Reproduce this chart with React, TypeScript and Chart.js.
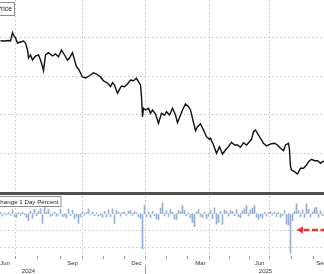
import React, { useEffect, useRef } from 'react';
import { Chart, registerables } from 'chart.js';

Chart.register(...registerables);

// x unit: trading-day index from the first visible session (early Jun 2024)
const priceDays = [0, 4, 8, 10, 12, 13, 15, 17, 20, 23, 25, 27, 28, 30, 32, 35, 38, 40, 42, 43, 45, 48, 52, 55, 58, 61, 64, 67, 69, 72, 74, 76, 78, 80, 82, 85, 87, 90, 93, 96, 100, 103, 107, 110, 112, 114, 117, 119, 121, 124, 127, 130, 133, 136, 138, 140, 141, 142, 143, 145, 148, 150, 152, 155, 158, 161, 164, 166, 169, 172, 175, 177, 180, 182, 185, 188, 190, 192, 195, 197, 200, 203, 206, 209, 210, 213, 216, 219, 222, 225, 228, 231, 234, 237, 240, 243, 246, 249, 251, 253, 255, 257, 260, 263, 266, 270, 274, 277, 280, 283, 285, 288, 289, 290, 291, 294, 297, 300, 303, 306, 308, 311, 314, 317, 320, 322, 324];

const priceValues = [39.27, 39.19, 39.32, 39.19, 41.35, 40.76, 39.97, 38.67, 38.93, 39.19, 38.67, 36.85, 34.77, 35.55, 34.24, 35.29, 35.55, 34.24, 32.5, 31.46, 35.55, 36.15, 35.29, 35.81, 35.1, 36.85, 35.55, 34.24, 34.77, 36.15, 34.24, 32.5, 31.9, 30.86, 29.82, 29.56, 29.82, 30.34, 30.94, 30.6, 29.82, 28.78, 28.26, 27.34, 28.33, 27.73, 25.57, 26.61, 27.47, 27.29, 27.99, 29.04, 28.85, 29.48, 28.59, 27.73, 24.69, 19.48, 21.67, 21.22, 21.67, 20.36, 21.22, 20.18, 17.76, 20.36, 19.92, 20.78, 19.92, 21.67, 19.92, 17.92, 19.92, 21.22, 22.79, 22.08, 21.22, 19.06, 15.83, 16.88, 17.58, 16.02, 14.27, 13.59, 13.85, 12.11, 9.95, 11.67, 9.77, 10.81, 11.67, 12.81, 12.11, 12.11, 11.51, 12.71, 12.11, 12.97, 13.59, 15.57, 16.02, 15.16, 13.85, 12.55, 11.85, 12.37, 12.55, 12.11, 11.25, 10.63, 12.11, 12.55, 10.81, 6.46, 5.6, 5.16, 4.56, 6.04, 6.04, 6.9, 7.76, 8.39, 8.02, 8.02, 7.34, 7.76, 7.94];

// Change 1 Day Percent, one bar every 2 sessions
const changeDayStep = 2;
const changeValues = [0.8, -1.2, 0.5, -0.6, 1.0, -0.8, 2.5, -1.5, -2.0, 0.7, -0.9, 1.1, -0.5, -2.2, -4.0, 1.8, -2.5, 2.8, -1.0, 1.5, 3.2, -5.5, 4.0, 1.2, 2.6, -1.4, -0.8, 1.0, -1.3, -0.7, 2.8, -1.6, -1.2, -2.4, 3.0, -1.0, 2.2, -2.8, -1.5, -5.5, -1.8, 1.4, -0.8, 1.0, 3.0, -0.6, 1.2, -0.9, 0.6, -1.1, -0.7, -2.0, 1.5, -1.8, 2.4, -1.6, 3.0, -5.5, 2.0, 1.1, -1.3, 0.9, 1.2, -0.8, 1.6, 2.1, -0.9, 1.3, 0.7, -1.8, -2.5, -20.5, 5.0, -1.5, 1.2, -2.2, 1.6, -1.0, -2.8, -3.5, 3.4, 6.5, -1.2, 1.9, -1.5, 2.6, 1.0, -3.0, -3.2, 2.0, 1.4, 5.0, 2.2, -1.0, 0.8, -2.4, -5.0, -7.5, 1.2, 2.6, -1.4, -2.0, 1.0, -2.6, -1.2, 2.2, -2.8, 3.5, -6.0, -5.0, 1.5, -6.0, 2.4, 1.8, -1.2, 2.0, 1.5, -1.0, 2.6, -1.6, -2.2, 1.8, 3.0, 5.0, -1.2, 2.4, 3.5, 5.0, -2.0, -3.2, -1.4, -2.5, 1.0, -1.2, 0.8, 1.5, -0.8, 1.2, -1.4, 0.9, -2.2, -1.0, 2.0, -6.0, -6.5, -23.0, -4.0, 1.5, 6.0, 2.0, -1.5, 2.4, -2.0, 6.0, 2.8, -1.8, 1.2, 3.5, 4.0, -2.0, 1.8, -1.0, 2.2];

const quarterGridDays = [15, 82, 145, 209, 269];
const monthTickDays = [15, 37, 60, 82, 103, 124, 145, 166, 187, 209, 229, 249, 269, 291, 313];
const monthLabels = ['Jun', 'Sep', 'Dec', 'Mar', 'Jun', 'Sep'];
const monthLabelDays = [4.5, 72, 136, 200, 259, 321];
const yearLabels = ['2024', '2025'];
const yearLabelDays = [28, 265];
const yearBoundaryDay = 145;
const priceGridTicks = [10, 20, 30, 40];
const changeGridTicks = [-20, -10, 0];
const arrowDay = 296;
const arrowLevel = -9.4;
const priceLegend = 'Price';
const changeLegend = 'Change 1 Day Percent';

const FONT = '"Liberation Sans", Arial, sans-serif';
const GRID = '#c4c4c4';
const DASH = [1.5, 2.5];

export default function App() {
  const ref = useRef<HTMLCanvasElement>(null);

  useEffect(() => {
    if (!ref.current) return;

    const overlay = {
      id: 'overlay',
      afterDatasetsDraw(chart: any) {
        const { ctx, chartArea, scales } = chart;
        const x = scales.x;
        const yt = scales.yTop;
        const yb = scales.yBot;
        ctx.save();
        // panel separator
        const sep = Math.round(yt.getPixelForValue(0) + 0.5);
        ctx.fillStyle = '#505050';
        ctx.fillRect(0, sep, chart.width, 3);

        // red dashed arrow
        const ay = yb.getPixelForValue(arrowLevel);
        const ax = x.getPixelForValue(arrowDay);
        ctx.fillStyle = '#e53935';
        ctx.beginPath();
        ctx.moveTo(ax, ay);
        ctx.lineTo(ax + 6.5, ay - 3.5);
        ctx.lineTo(ax + 6.5, ay + 3.5);
        ctx.closePath();
        ctx.fill();
        ctx.strokeStyle = '#e53935';
        ctx.lineWidth = 2.6;
        ctx.setLineDash([6, 2.5]);
        ctx.beginPath();
        ctx.moveTo(ax + 7, ay);
        ctx.lineTo(chartArea.right + 5, ay);
        ctx.stroke();
        ctx.setLineDash([]);

        // month ticks
        ctx.strokeStyle = '#9a9a9a';
        ctx.lineWidth = 1;
        for (const d of monthTickDays) {
          const px = Math.floor(x.getPixelForValue(d)) + 0.5;
          ctx.beginPath();
          ctx.moveTo(px, chartArea.bottom);
          ctx.lineTo(px, chartArea.bottom + 3);
          ctx.stroke();
        }
        // year boundary
        const yx = Math.floor(x.getPixelForValue(yearBoundaryDay)) + 0.5;
        ctx.beginPath();
        ctx.moveTo(yx, chartArea.bottom + 9);
        ctx.lineTo(yx, chart.height);
        ctx.stroke();

        // labels
        ctx.fillStyle = '#333';
        ctx.font = `6px ${FONT}`;
        ctx.textAlign = 'center';
        ctx.textBaseline = 'middle';
        monthLabels.forEach((t, i) => ctx.fillText(t, x.getPixelForValue(monthLabelDays[i]), chartArea.bottom + 7.5));
        yearLabels.forEach((t, i) => ctx.fillText(t, x.getPixelForValue(yearLabelDays[i]), chartArea.bottom + 15));

        // legend boxes
        const box = (text: string, size: number, right: number, top: number, bottom: number) => {
          ctx.font = `${size}px ${FONT}`;
          const w = ctx.measureText(text).width;
          const left = right - w - 8;
          ctx.fillStyle = '#fff';
          ctx.fillRect(left, top, right - left, bottom - top);
          ctx.strokeStyle = '#8c8c8c';
          ctx.lineWidth = 1;
          ctx.strokeRect(left + 0.5, top + 0.5, right - left - 1, bottom - top - 1);
          ctx.fillStyle = '#222';
          ctx.textAlign = 'right';
          ctx.textBaseline = 'middle';
          ctx.fillText(text, right - 3, (top + bottom) / 2 + 0.5);
        };
        box(priceLegend, 6.8, 15, 2, 16);
        box(changeLegend, 6.2, 61.5, sep + 4, sep + 15);
        ctx.restore();
      },
    };

    const chart = new Chart(ref.current, {
      type: 'line',
      data: {
        datasets: [
          {
            type: 'line',
            label: priceLegend,
            data: priceDays.map((d, i) => ({ x: d, y: priceValues[i] })),
            borderColor: '#111',
            borderWidth: 1.4,
            pointRadius: 0,
            tension: 0,
            xAxisID: 'x',
            yAxisID: 'yTop',
          } as any,
          {
            type: 'bar',
            label: changeLegend,
            data: changeValues.map((v, i) => ({ x: i * changeDayStep, y: v })),
            backgroundColor: '#97aed0',
            borderWidth: 0,
            barThickness: 1,
            xAxisID: 'x',
            yAxisID: 'yBot',
          } as any,
        ],
      },
      options: {
        animation: false,
        responsive: false,
        maintainAspectRatio: false,
        layout: { padding: { left: 0, right: 0, top: 0, bottom: 18 } },
        plugins: { legend: { display: false }, tooltip: { enabled: false } },
        scales: {
          x: {
            type: 'linear',
            position: 'bottom',
            offset: false,
            min: -0.5,
            max: 323.5,
            ticks: { display: false },
            grid: { color: GRID, drawTicks: false, lineWidth: 1, offset: false },
            border: { display: false, dash: DASH },
            afterBuildTicks: (s: any) => {
              s.ticks = quarterGridDays.map((v) => ({ value: v }));
            },
          },
          yTop: {
            type: 'linear',
            position: 'left',
            min: -16.8,
            max: 49.87,
            ticks: { display: false },
            grid: { color: GRID, drawTicks: false, lineWidth: 1 },
            border: { display: false, dash: DASH },
            afterBuildTicks: (s: any) => {
              s.ticks = priceGridTicks.map((v) => ({ value: v }));
            },
          },
          yBot: {
            type: 'linear',
            position: 'left',
            min: -24.71,
            max: 125.88,
            ticks: { display: false },
            grid: { color: GRID, drawTicks: false, lineWidth: 1 },
            border: { display: false, dash: DASH },
            afterBuildTicks: (s: any) => {
              s.ticks = changeGridTicks.map((v) => ({ value: v }));
            },
          },
        } as any,
      },
      plugins: [overlay],
    });

    return () => chart.destroy();
  }, []);

  return (
    <div style={{ position: 'fixed', left: 0, top: 0, width: 324, height: 274, background: '#fff' }}>
      <canvas ref={ref} width={324} height={274} style={{ display: 'block' }} />
    </div>
  );
}
